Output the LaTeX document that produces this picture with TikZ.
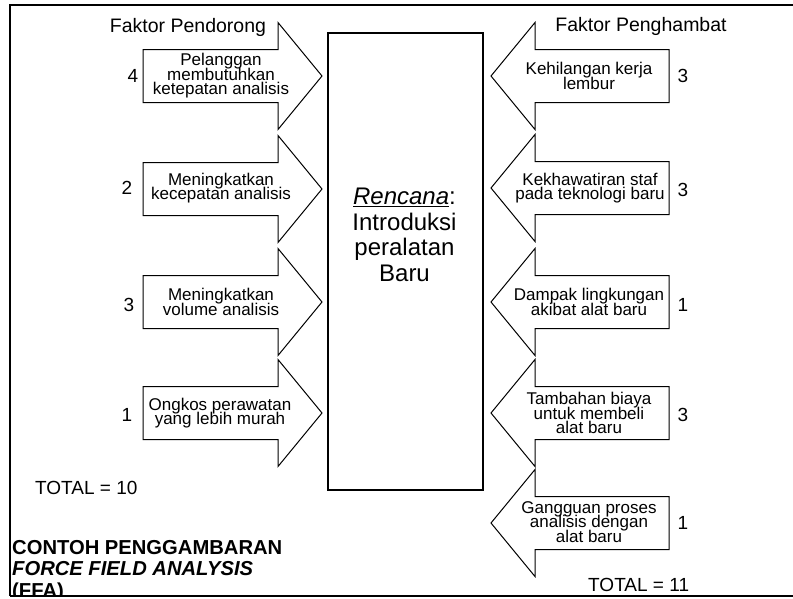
\documentclass[tikz,border=0pt]{standalone}
\usepackage{fontspec}
\setmainfont{Liberation Sans}
% let stacked lines sit closer than their glyph heights
\newcommand{\snuglines}{\lineskiplimit=-100pt\lineskip=0pt}
\begin{document}
\begin{tikzpicture}[x=1pt,y=-1pt,
  frame/.style={line width=2.5pt},
  planbox/.style={draw,line width=1.6pt,inner sep=0pt},
  arrowline/.style={draw,line width=1pt,fill=white,line join=miter},
  forcetext/.style={align=center,inner sep=0pt,font=\fontsize{17}{14.5}\selectfont\snuglines},
  score/.style={inner sep=0pt,font=\fontsize{19}{22}\selectfont},
  heading/.style={inner sep=0pt,anchor=base,font=\fontsize{19.5}{22}\selectfont},
  pics/pushright/.style={code={
    \path[arrowline] (-135,-26.5) -- (0,-26.5) -- (0,-53.5) -- (44,0)
      -- (0,53.5) -- (0,26.5) -- (-135,26.5) -- cycle;}},
  pics/pushleft/.style={code={
    \path[arrowline] (134,-26.5) -- (0,-26.5) -- (0,-53.5) -- (-44,0)
      -- (0,53.5) -- (0,26.5) -- (134,26.5) -- cycle;}},
]
\useasboundingbox (0,0) rectangle (793,598);

% outer frame (left and top)
\draw[frame] (10,600) -- (10,5) -- (793,5);

% headings
\node[heading] (hpush) at (188,32) {Faktor Pendorong};
\node[heading] (hhold) at (641,31) {Faktor Penghambat};

% central plan box
\node[planbox,anchor=north west,minimum width=155pt,minimum height=457pt] (plan) at (327,32) {};
\node[inner sep=0pt,align=center,font=\fontsize{24}{25.5}\selectfont\snuglines] (plantext) at (404.5,235)
  {\underline{\textit{Rencana}}:\\Introduksi\\peralatan\\Baru};

% driving forces
\pic at (278,76)  {pushright};
\pic at (278,189) {pushright};
\pic at (278,302) {pushright};
\pic at (278,413) {pushright};
\node[forcetext] (d1) at (221,76)  {Pelanggan\\membutuhkan\\ketepatan analisis};
\node[forcetext] (d2) at (221,188) {Meningkatkan\\kecepatan analisis};
\node[forcetext] (d3) at (221,302) {Meningkatkan\\volume analisis};
\node[forcetext] (d4) at (220,413) {Ongkos perawatan\\yang lebih murah};
\node[score] (nd1) at (133,76)  {4};
\node[score] (nd2) at (127,188) {2};
\node[score] (nd3) at (129,305) {3};
\node[score] (nd4) at (127,415) {1};

% restraining forces
\pic at (535,76)  {pushleft};
\pic at (535,188) {pushleft};
\pic at (535,302) {pushleft};
\pic at (535,413) {pushleft};
\pic at (535,523) {pushleft};
\node[forcetext] (r1) at (589,76)  {Kehilangan kerja\\lembur};
\node[forcetext] (r2) at (590,188) {Kekhawatiran staf\\pada teknologi baru};
\node[forcetext] (r3) at (589,302) {Dampak lingkungan\\akibat alat baru};
\node[forcetext] (r4) at (589,413) {Tambahan biaya\\untuk membeli\\alat baru};
\node[forcetext] (r5) at (589,522) {Gangguan proses\\analisis dengan\\alat baru};
\node[score] (nr1) at (683,76)  {3};
\node[score] (nr2) at (683,190) {3};
\node[score] (nr3) at (683,305) {1};
\node[score] (nr4) at (683,415) {3};
\node[score] (nr5) at (683,523) {1};

% totals
\node[score,anchor=base west] (tpush) at (35,494) {TOTAL = 10};
\node[score,anchor=base west] (thold) at (588,591) {TOTAL = 11};

% caption
\node[inner sep=0pt,anchor=north west,align=left,font=\bfseries\fontsize{20.2}{21.5}\selectfont\snuglines] (caption) at (12,540)
  {CONTOH PENGGAMBARAN\\\textit{FORCE FIELD ANALYSIS}\\(FFA)};

% bottom edge of the frame, hiding what runs past it
\fill[white] (0,596) rectangle (800,605);
\draw[frame] (10,596) -- (800,596);
\end{tikzpicture}
\end{document}
